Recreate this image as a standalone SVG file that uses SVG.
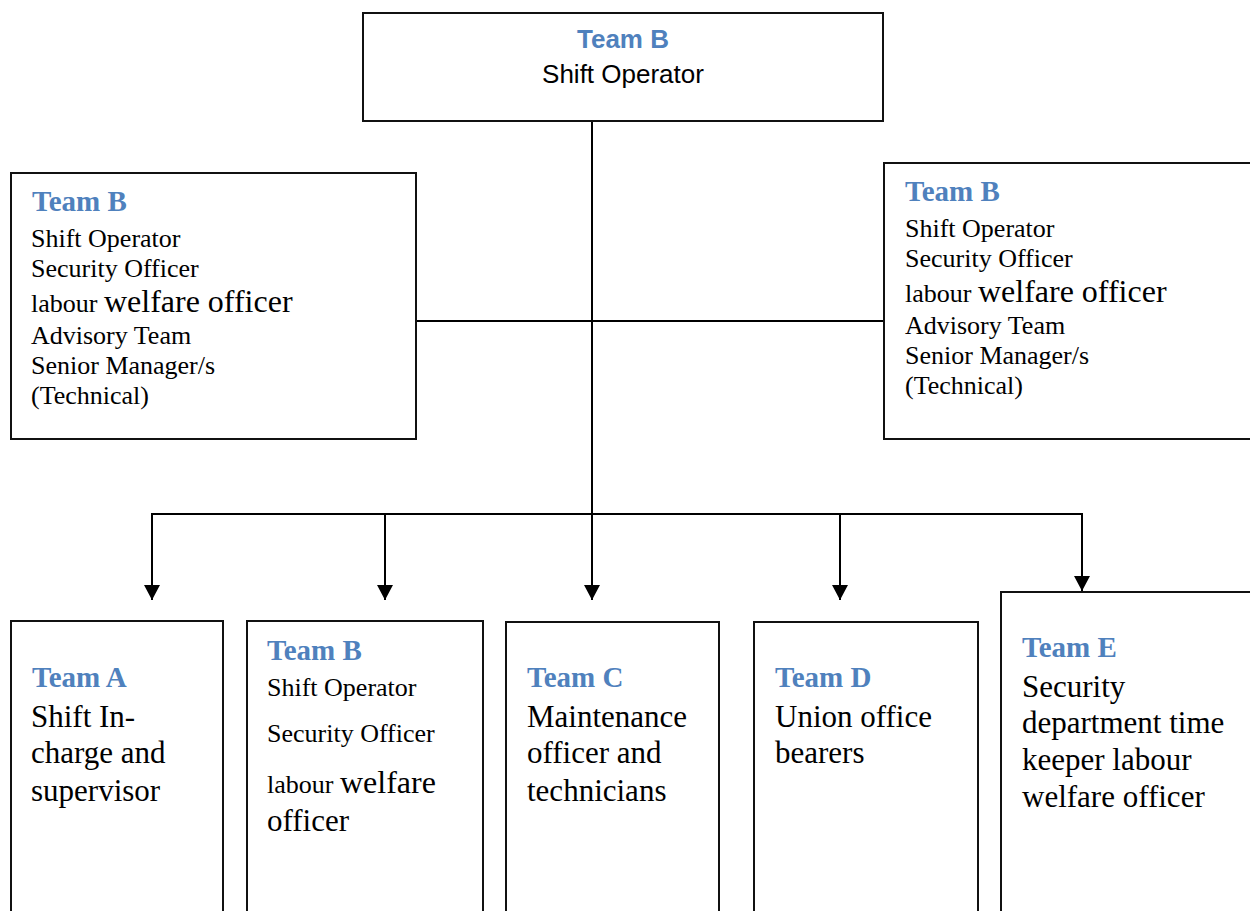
<svg xmlns="http://www.w3.org/2000/svg" width="1250" height="911" viewBox="0 0 1250 911">
<style>
.box{fill:#fff;stroke:#111;stroke-width:2}
.ln{fill:none;stroke:#000;stroke-width:2}
.ttl{font-family:"Liberation Serif",serif;font-weight:bold;font-size:29px;fill:#4F81BD}
.ttls{font-family:"Liberation Sans",Arial,sans-serif;font-weight:bold;font-size:26px;fill:#4F81BD}
.sans{font-family:"Liberation Sans",Arial,sans-serif;font-size:26px;fill:#000}
.b{font-family:"Liberation Serif",serif;font-size:26px;fill:#000}
.big{font-family:"Liberation Serif",serif;font-size:31px;fill:#000}
.w{font-size:32px}
</style>
<defs>
<marker id="arr" markerUnits="userSpaceOnUse" markerWidth="18" markerHeight="18" refX="15" refY="8" orient="auto">
<path d="M0,0 L15,8 L0,16 z" fill="#000"/>
</marker>
</defs>
<g id="connectors">
<line class="ln" x1="592" y1="120" x2="592" y2="514"/>
<line class="ln" x1="416" y1="321" x2="884" y2="321"/>
<polyline class="ln" points="152,600 152,514 1082,514 1082,591" marker-end="url(#arr)"/>
<line class="ln" x1="152" y1="514" x2="152" y2="600" marker-end="url(#arr)"/>
<line class="ln" x1="385" y1="514" x2="385" y2="600" marker-end="url(#arr)"/>
<line class="ln" x1="592" y1="514" x2="592" y2="600" marker-end="url(#arr)"/>
<line class="ln" x1="840" y1="514" x2="840" y2="600" marker-end="url(#arr)"/>
</g>
<g id="top">
<rect class="box" x="363" y="13" width="520" height="108"/>
<text class="ttls" x="623" y="48" text-anchor="middle">Team B</text>
<text class="sans" x="623" y="83" text-anchor="middle">Shift Operator</text>
</g>
<g id="left">
<rect class="box" x="11" y="173" width="405" height="266"/>
<text class="ttl" x="32" y="211">Team B</text>
<text class="b" x="31" y="247">Shift Operator</text>
<text class="b" x="31" y="277">Security Officer</text>
<text class="b" x="31" y="312">labour <tspan class="w">welfare officer</tspan></text>
<text class="b" x="31" y="344">Advisory Team</text>
<text class="b" x="31" y="374">Senior Manager/s</text>
<text class="b" x="31" y="404">(Technical)</text>
</g>
<g id="right">
<rect class="box" x="884" y="163" width="380" height="276"/>
<text class="ttl" x="905" y="201">Team B</text>
<text class="b" x="905" y="237">Shift Operator</text>
<text class="b" x="905" y="267">Security Officer</text>
<text class="b" x="905" y="302">labour <tspan class="w">welfare officer</tspan></text>
<text class="b" x="905" y="334">Advisory Team</text>
<text class="b" x="905" y="364">Senior Manager/s</text>
<text class="b" x="905" y="394">(Technical)</text>
</g>
<g id="teamA">
<rect class="box" x="11" y="621" width="212" height="300"/>
<text class="ttl" x="32" y="687">Team A</text>
<text class="big" x="31" y="727">Shift In-</text>
<text class="big" x="31" y="763">charge and</text>
<text class="big" x="31" y="801">supervisor</text>
</g>
<g id="teamB">
<rect class="box" x="247" y="621" width="236" height="300"/>
<text class="ttl" x="267" y="660">Team B</text>
<text class="b" x="267" y="696">Shift Operator</text>
<text class="b" x="267" y="742">Security Officer</text>
<text class="b" x="267" y="793">labour <tspan class="w">welfare</tspan></text>
<text class="big" x="267" y="831">officer</text>
</g>
<g id="teamC">
<rect class="box" x="506" y="622" width="213" height="300"/>
<text class="ttl" x="527" y="687">Team C</text>
<text class="big" x="527" y="727">Maintenance</text>
<text class="big" x="527" y="763">officer and</text>
<text class="big" x="527" y="801">technicians</text>
</g>
<g id="teamD">
<rect class="box" x="754" y="622" width="224" height="300"/>
<text class="ttl" x="775" y="687">Team D</text>
<text class="big" x="775" y="727">Union office</text>
<text class="big" x="775" y="763">bearers</text>
</g>
<g id="teamE">
<rect class="box" x="1001" y="592" width="270" height="330"/>
<text class="ttl" x="1022" y="657">Team E</text>
<text class="big" x="1022" y="697">Security</text>
<text class="big" x="1022" y="733">department time</text>
<text class="big" x="1022" y="770">keeper labour</text>
<text class="big" x="1022" y="807">welfare officer</text>
</g>
</svg>
